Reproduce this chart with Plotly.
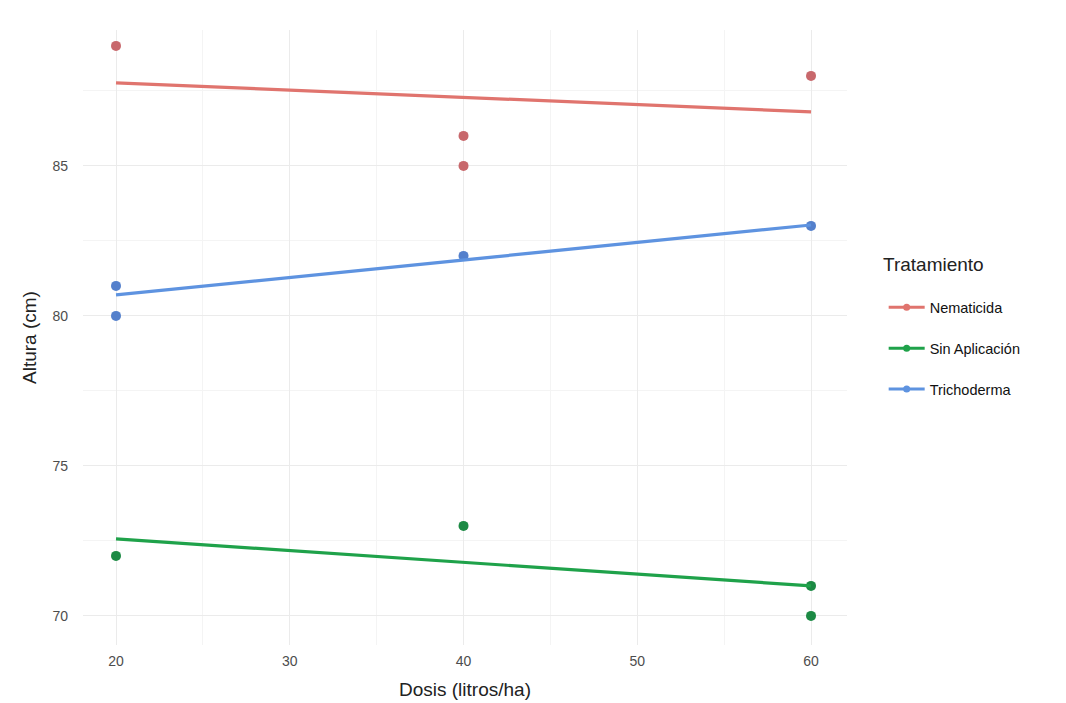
import plotly.graph_objects as go

# Data
treatments = ["Nematicida", "Sin Aplicación", "Trichoderma"]
line_colors = ["#E0746E", "#1FA24A", "#5E93E0"]
point_colors = ["#C8686C", "#1C8A44", "#5480CC"]

nem_x = [20, 40, 40, 60]
nem_y = [89, 86, 85, 88]
sin_x = [20, 40, 60, 60]
sin_y = [72, 73, 71, 70]
tri_x = [20, 20, 40, 60]
tri_y = [81, 80, 82, 83]

# fitted trend (linear smooth), at dose 20 and 60
trend_x = [20, 60]
nem_trend = [87.77, 86.80]
sin_trend = [72.57, 71.00]
tri_trend = [80.70, 83.03]

series = [
    (nem_x, nem_y, nem_trend),
    (sin_x, sin_y, sin_trend),
    (tri_x, tri_y, tri_trend),
]

fig = go.Figure()
for name, lc, pc, (xs, ys, tr) in zip(treatments, line_colors, point_colors, series):
    fig.add_trace(go.Scatter(
        x=xs, y=ys, mode="markers", name=name, legendgroup=name, showlegend=False,
        marker=dict(color=pc, size=10, line=dict(width=0)),
    ))
    fig.add_trace(go.Scatter(
        x=trend_x, y=tr, mode="lines", name=name, legendgroup=name, showlegend=False,
        line=dict(color=lc, width=3.2),
    ))
    # legend-only entry (line with dot)
    fig.add_trace(go.Scatter(
        x=[None], y=[None], mode="lines+markers", name=name, legendgroup=name,
        line=dict(color=lc, width=3), marker=dict(color=lc, size=7),
    ))

fig.add_annotation(
    text="Tratamiento", xref="paper", yref="paper", x=1.045, y=0.618,
    xanchor="left", yanchor="middle", showarrow=False,
    font=dict(size=19, color="#222"),
)

fig.update_layout(
    width=1066, height=703,
    margin=dict(l=83, r=219, t=30, b=58),
    paper_bgcolor="white", plot_bgcolor="white",
    font=dict(family="Liberation Sans, Arial, sans-serif", color="#222"),
    showlegend=True,
    legend=dict(
        x=1.048, y=0.575, xanchor="left", yanchor="top",
        font=dict(size=14.5, color="#111"),
        tracegroupgap=19, itemwidth=36,
    ),
    xaxis=dict(
        range=[18.1, 62.07], tickvals=[20, 30, 40, 50, 60], ticktext=["20", "30", "40", "50", "60"],
        showgrid=True, gridcolor="#EBEBEB", gridwidth=1.2, zeroline=False, showline=False,
        tickfont=dict(size=14, color="#4D4D4D"), ticks="", ticklabelstandoff=6,
        minor=dict(tickvals=[25, 35, 45, 55], showgrid=True, gridcolor="#F4F4F4", gridwidth=1),
        title=dict(text="Dosis (litros/ha)", font=dict(size=19, color="#222"), standoff=14),
        automargin=False,
    ),
    yaxis=dict(
        range=[69.03, 89.53], tickvals=[70, 75, 80, 85], ticktext=["70", "75", "80", "85"],
        showgrid=True, gridcolor="#EBEBEB", gridwidth=1.2, zeroline=False, showline=False,
        tickfont=dict(size=14, color="#4D4D4D"), ticks="", ticklabelstandoff=14,
        minor=dict(tickvals=[72.5, 77.5, 82.5, 87.5], showgrid=True, gridcolor="#F4F4F4", gridwidth=1),
        title=dict(text="Altura (cm)", font=dict(size=19, color="#222"), standoff=10),
        automargin=False,
    ),
)

fig.write_html("out.html")
